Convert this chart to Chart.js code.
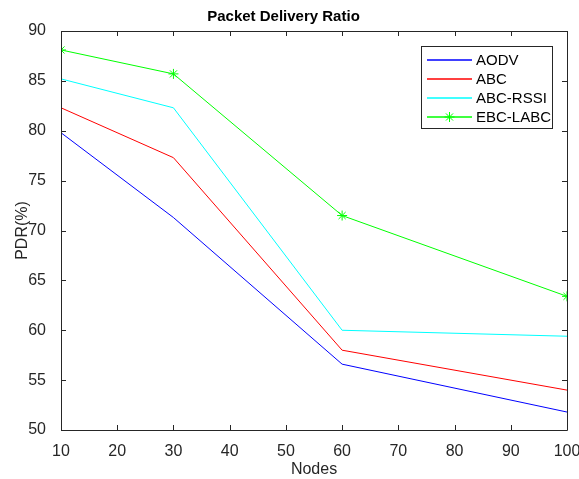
<!DOCTYPE html>
<html>
<head>
<meta charset="utf-8">
<script src="https://cdn.jsdelivr.net/npm/chart.js@4.4.1/dist/chart.umd.min.js"></script>
<style>
html,body{margin:0;padding:0;background:#fff}
#wrap{width:579px;height:479px}
</style>
</head>
<body>
<div id="wrap"><canvas id="pdr" width="579" height="479"></canvas></div>
<script>
const nodes = [10, 30, 60, 100]
const aodv = [79.8, 71.3, 56.6, 51.8]
const abc = [82.3, 77.3, 58.0, 54.0]
const abcRssi = [85.2, 82.3, 60.0, 59.4]
const ebcLabc = [88.1, 85.7, 71.5, 63.4]
const seriesNames = ["AODV", "ABC", "ABC-RSSI", "EBC-LABC"]
const xTicks = [10, 20, 30, 40, 50, 60, 70, 80, 90, 100]
const yTicks = [50, 55, 60, 65, 70, 75, 80, 85, 90]

const FONT = "'Liberation Sans', Arial, Helvetica, sans-serif"
const INK = "#262626"
const COLORS = ["#0000ff", "#ff0000", "#00ffff", "#00ff00"]

function pts(arr){
return nodes.map((n,i)=>({x:n,y:arr[i]}))
}

function drawStar(ctx,cx,cy,r){
ctx.beginPath()
for(let k=0;k<4;k++){
const ang = k*Math.PI/4
ctx.moveTo(cx-r*Math.cos(ang), cy-r*Math.sin(ang))
ctx.lineTo(cx+r*Math.cos(ang), cy+r*Math.sin(ang))
}
ctx.stroke()
}

/* ================================
   BOX + INWARD TICKS (matlab style)
================================ */

const boxPlugin = {
id:"box",
afterDatasetsDraw(chart){
const {ctx, chartArea:a, scales} = chart
ctx.save()
ctx.strokeStyle = INK
ctx.lineWidth = 1
ctx.beginPath()
ctx.rect(Math.round(a.left)+0.5, Math.round(a.top)+0.5, Math.round(a.right-a.left), Math.round(a.bottom-a.top))
ctx.stroke()
ctx.beginPath()
xTicks.forEach(v=>{
const x = Math.round(scales.x.getPixelForValue(v))+0.5
ctx.moveTo(x,a.bottom); ctx.lineTo(x,a.bottom-5)
ctx.moveTo(x,a.top); ctx.lineTo(x,a.top+5)
})
yTicks.forEach(v=>{
const y = Math.round(scales.y.getPixelForValue(v))+0.5
ctx.moveTo(a.left,y); ctx.lineTo(a.left+5,y)
ctx.moveTo(a.right,y); ctx.lineTo(a.right-5,y)
})
ctx.stroke()
ctx.restore()
}
}

/* ================================
   LEGEND INSIDE THE AXES
================================ */

const legendPlugin = {
id:"boxLegend",
afterDraw(chart){
const ctx = chart.ctx
const left = 421, top = 46, w = 131, h = 82, rowH = 19.3
ctx.save()
ctx.fillStyle = "#ffffff"
ctx.fillRect(left, top, w, h)
ctx.lineWidth = 1
ctx.strokeStyle = INK
ctx.strokeRect(left+0.5, top+0.5, w, h)
ctx.font = "15px " + FONT
ctx.textBaseline = "middle"
seriesNames.forEach((name,i)=>{
const y = Math.round(top + 13.5 + i*rowH)
ctx.strokeStyle = COLORS[i]
ctx.lineWidth = 1.5
ctx.beginPath()
ctx.moveTo(427,y)
ctx.lineTo(472,y)
ctx.stroke()
ctx.lineWidth = 1
if(i===3) drawStar(ctx,449.5,y,5)
ctx.fillStyle = "#000000"
ctx.fillText(name, 476, y+1)
})
ctx.restore()
}
}

const line = (i,data,marker)=>({
label:seriesNames[i],
data:pts(data),
borderColor:COLORS[i],
backgroundColor:COLORS[i],
borderWidth:1,
pointStyle:marker ? "star" : "circle",
pointRadius:marker ? 5 : 0,
pointBorderWidth:1,
pointBorderColor:COLORS[i],
fill:false,
tension:0
})

new Chart(document.getElementById("pdr"),{
type:"line",
data:{
datasets:[
line(0, aodv, false),
line(1, abc, false),
line(2, abcRssi, false),
line(3, ebcLabc, true)
]
},
options:{
responsive:false,
animation:false,
layout:{padding:{left:0,right:12,top:0,bottom:0}},
plugins:{
legend:{display:false},
tooltip:{enabled:false},
title:{
display:true,
text:"Packet Delivery Ratio",
color:"#000",
font:{family:FONT,size:15,weight:"bold"},
padding:{top:7.5,bottom:5.5}
}
},
scales:{
x:{
type:"linear",
min:10,max:100,
afterBuildTicks(s){ s.ticks = xTicks.map(v=>({value:v})) },
afterFit(s){ s.height = 49; s.paddingLeft = 0; s.paddingRight = 0 },
grid:{display:false},
border:{display:false},
ticks:{color:INK,font:{family:FONT,size:16},padding:4,maxRotation:0},
title:{display:true,text:"Nodes",color:INK,font:{family:FONT,size:16},padding:{top:0,bottom:0}}
},
y:{
min:50,max:90,
afterBuildTicks(s){ s.ticks = yTicks.map(v=>({value:v})) },
afterFit(s){ s.width = 61; s.paddingTop = 0; s.paddingBottom = 0 },
grid:{display:false},
border:{display:false},
ticks:{color:INK,font:{family:FONT,size:16},padding:7},
title:{display:true,text:"PDR(%)",color:INK,font:{family:FONT,size:16},padding:{top:13,bottom:0}}
}
}
},
plugins:[boxPlugin,legendPlugin]
})
</script>
</body>
</html>
